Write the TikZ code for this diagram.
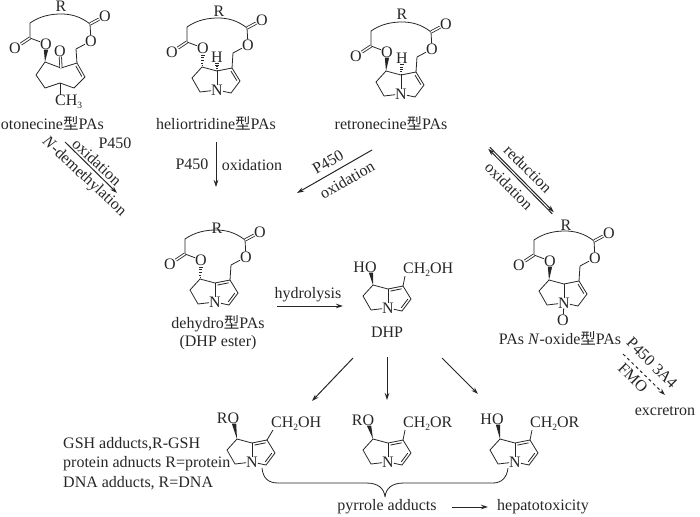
\documentclass[tikz,border=0pt]{standalone}
\usepackage{fontspec}
\setmainfont{Liberation Serif}
\newfontfamily\cjk{Noto Sans CJK SC}
\usetikzlibrary{calc,arrows.meta}
\tikzset{
  bondS/.style  ={black!85, line width=0.8pt, line join=round},
  dblS/.style   ={bondS, double=white, double distance=1.5pt},
  atom/.style   ={inner sep=0pt, text=black!85},
  label/.style  ={inner sep=0pt, text=black!85},
  arrowS/.style ={black!85, line width=1pt, -{Stealth[length=7pt,width=4.5pt]}},
}
\newcommand{\xing}{{\cjk\fontsize{15.5}{16}\selectfont 型}}
\newcommand{\subtwo}{\raisebox{-3pt}{\fontsize{9.5}{10}\selectfont 2}}
\newcommand{\subthree}{\raisebox{-3pt}{\fontsize{9.5}{10}\selectfont 3}}
\newcommand{\inbond}[2]{\draw[bondS, shorten <=2pt, shorten >=2pt] ($(#1)!2.5pt!-90:(#2)$) -- ($(#2)!2.5pt!90:(#1)$);}
\newcommand{\wedgeb}[2]{\fill[black!85] (#2) -- ($(#1)+(-2.2,0)$) -- ($(#1)+(2.2,0)$) -- cycle;}
\newcommand{\hashb}[2]{\foreach \t in {0.1,0.3,0.5,0.7,0.9}{\draw[black!85, line width=0.6pt] ($(#2)!\t!(#1)+(-0.3-\t*1.8,0)$) -- ($(#2)!\t!(#1)+(0.3+\t*1.8,0)$);}}
% five-membered rings around N, drawn in a scope whose origin is N
\newcommand{\fivecoords}[1]{
  \node[atom] (#1n) at (0,0) {N};
  \coordinate (#1c7) at (-15,-23); \coordinate (#1c8) at (0,-19);
  \coordinate (#1c1) at (15,-22);  \coordinate (#1c2) at (23,-9);
  \coordinate (#1c3) at (14,3);    \coordinate (#1c5) at (-17,2);
  \coordinate (#1c6) at (-25,-12);
  \draw[bondS] (#1n) -- (#1c5) -- (#1c6) -- (#1c7) -- (#1c8) -- (#1c1) -- (#1c2) -- (#1c3) -- (#1n);
  \draw[bondS] (#1n) -- (#1c8);
}
\newcommand{\dihydro}[1]{\fivecoords{#1} \inbond{#1c1}{#1c2}}
\newcommand{\pyrrole}[1]{\fivecoords{#1} \inbond{#1c8}{#1c1} \inbond{#1c2}{#1c3}}
% large ring with the two esters
\newcommand{\lactone}[1]{
  \coordinate (#1ch) at (16,-37); \coordinate (#1cr) at (30,-62);
  \coordinate (#1cl) at (-30,-48); \coordinate (#1al) at (-30,-63);
  \node[atom] (#1ol) at (-14,-42) {O};
  \node[atom] (#1or) at (31,-45) {O};
  \node[atom] (#1ql) at (-45,-38) {O};
  \node[atom] (#1qr) at (45,-70) {O};
  \draw[bondS] (#1c1) -- (#1ch) -- (#1or) -- (#1cr) .. controls (20,-70) and (10,-72) .. (1,-72)
     .. controls (-9,-72) and (-20,-70) .. (#1al) -- (#1cl) -- (#1ol);
  \draw[dblS] (#1cl) -- (#1ql);
  \draw[dblS] (#1cr) -- (#1qr);
}
\begin{document}
\begin{tikzpicture}[x=1pt, y=-1pt, font=\fontsize{16}{18}\selectfont]
  \useasboundingbox (0,0) rectangle (700,516);

  % otonecine
  \begin{scope}[shift={(60,86)}]
    \coordinate (otoc1) at (17,-23);
    \lactone{oto}
    \coordinate (otoc7) at (-15,-24); \coordinate (otok) at (1,-18); \coordinate (otoc2) at (25,-9);
    \coordinate (otoc3) at (14,2);    \coordinate (otom) at (0,-3);  \coordinate (otoc5) at (-15,2);
    \coordinate (otoc6) at (-24,-11);
    \node[atom] (otoq) at (0,-35) {O};
    \node[label, anchor=west] (otome) at (-5,16) {CH\subthree};
    \node[label] (otoR) at (1,-79.5) {R};
    \draw[bondS] (otoc7) -- (otok) -- (otoc1) -- (otoc2) -- (otoc3) -- (otom) -- (otoc5) -- (otoc6) -- (otoc7);
    \draw[bondS] (otom) -- (0,9);
    \draw[dblS] (otok) -- (otoq);
    \inbond{otoc1}{otoc2}
    \wedgeb{otool.south}{otoc7}
  \end{scope}
  \node[label, anchor=east] (otoT) at (104,123) {otonecine\xing PAs};

  % heliotridine
  \begin{scope}[shift={(217,90)}]
    \dihydro{hel}
    \lactone{hel}
    \node[atom] (helh) at (0,-33) {H};
    \node[label] (helR) at (2,-79) {R};
    \hashb{helol.south}{helc7}
    \hashb{helh.south}{helc8}
  \end{scope}
  \node[label] (helT) at (216,123) {heliortridine\xing PAs};

  % retronecine
  \begin{scope}[shift={(401,94)}]
    \dihydro{ret}
    \lactone{ret}
    \node[atom] (reth) at (1,-36) {H};
    \node[label] (retR) at (1,-80) {R};
    \wedgeb{retol.south}{retc7}
    \hashb{reth.south}{retc8}
  \end{scope}
  \node[label] (retT) at (391,123) {retronecine\xing PAs};

  % dehydro
  \begin{scope}[shift={(215,302)}]
    \pyrrole{deh}
    \lactone{deh}
    \node[label] (dehR) at (2,-74) {R};
    \hashb{dehol.south}{dehc7}
  \end{scope}
  \node[label] (dehT) at (218,324) {dehydro\xing PAs};
  \node[label] (dehU) at (218,343) {(DHP ester)};

  % N-oxide
  \begin{scope}[shift={(564,303)}]
    \dihydro{nox}
    \lactone{nox}
    \node[label] (noxR) at (2,-78) {R};
    \node[atom] (noxo) at (-1,17) {O};
    \draw[bondS] (noxn) -- (noxo);
    \wedgeb{noxol.south}{noxc7}
  \end{scope}
  \node[label] (noxT) at (560,338) {PAs \textit{N}-oxide\xing PAs};

  % DHP
  \begin{scope}[shift={(388,308)}]
    \pyrrole{dhp}
    \node[atom] (dhpo) at (-23,-41) {HO};
    \node[atom, anchor=west] (dhpm) at (15,-38) {CH\subtwo OH};
    \wedgeb{$(dhpo.south)+(6,0)$}{dhpc7}
    \draw[bondS] (dhpc1) -- ($(dhpm.west)+(2,6)$);
  \end{scope}
  \node[label] (dhpT) at (387,332) {DHP};

  % adducts
  \begin{scope}[shift={(252,462)}]
    \pyrrole{adA}
    \node[atom] (adAo) at (-24,-44) {RO};
    \node[atom, anchor=west] (adAm) at (19,-38) {CH\subtwo OH};
    \wedgeb{$(adAo.south)+(6,0)$}{adAc7}
    \draw[bondS] (adAc1) -- ($(adAm.west)+(2,6)$);
  \end{scope}
  \begin{scope}[shift={(388,462)}]
    \pyrrole{adB}
    \node[atom] (adBo) at (-25,-42) {RO};
    \node[atom, anchor=west] (adBm) at (15,-38) {CH\subtwo OR};
    \wedgeb{$(adBo.south)+(6,0)$}{adBc7}
    \draw[bondS] (adBc1) -- ($(adBm.west)+(2,6)$);
  \end{scope}
  \begin{scope}[shift={(515,462)}]
    \pyrrole{adC}
    \node[atom] (adCo) at (-23,-43) {HO};
    \node[atom, anchor=west] (adCm) at (15,-38) {CH\subtwo OR};
    \wedgeb{$(adCo.south)+(6,0)$}{adCc7}
    \draw[bondS] (adCc1) -- ($(adCm.west)+(2,6)$);
  \end{scope}
  \node[label, anchor=west] (gshT) at (63,444) {GSH adducts,R-GSH};
  \node[label, anchor=west] (proT) at (63,464) {protein adnucts R=protein};
  \node[label, anchor=west] (dnaT) at (63,483) {DNA adducts, R=DNA};

  % brace below the adducts
  \coordinate (braceL) at (262,468); \coordinate (braceR) at (508,468); \coordinate (braceT) at (385,497);
  \draw[bondS] (braceL) .. controls (263,478) and (268,483) .. (278,483) -- (366,483)
     .. controls (378,483) and (384,488) .. (braceT) .. controls (386,488) and (392,483) .. (404,483)
     -- (493,483) .. controls (502,483) and (507,477) .. (braceR);
  \node[label] (pyrT) at (387,507) {pyrrole adducts};
  \node[label] (hepT) at (543,507) {hepatotoxicity};
  \coordinate (pyrE) at (452,507); \coordinate (hepE) at (488,507);
  \draw[arrowS] (pyrE) -- (hepE);

  % reactions
  \coordinate (a1s) at (65,142);   \coordinate (a1e) at (117,193);
  \draw[arrowS] (a1s) -- (a1e);
  \node[label, rotate=-43] (a1t) at (97,162) {oxidation};
  \node[label, rotate=-43] (a1u) at (84,177) {\textit{N}-demethylation};
  \node[label] (a1v) at (115,143) {P450};

  \coordinate (a2s) at (216,142);  \coordinate (a2e) at (216,187);
  \draw[arrowS, line width=0.7pt] (a2s) -- (a2e);
  \node[label] (a2v) at (192,164) {P450};
  \node[label] (a2t) at (252,165) {oxidation};

  \coordinate (a3s) at (372,150);  \coordinate (a3e) at (297,193);
  \draw[arrowS] (a3s) -- (a3e);
  \node[label, rotate=30] (a3v) at (328,162) {P450};
  \node[label, rotate=30] (a3t) at (347,180) {oxidation};

  \coordinate (a4s) at (489,148);  \coordinate (a4e) at (553,213);
  \draw[arrowS, transform canvas={shift={(0.8pt,0.8pt)}}] (a4s) -- (a4e);
  \draw[arrowS, transform canvas={shift={(-0.8pt,-0.8pt)}}] (a4e) -- (a4s);
  \node[label, rotate=-45] (a4t) at (528,169) {reduction};
  \node[label, rotate=-45] (a4u) at (509,186) {oxidation};

  \coordinate (a5s) at (277,306);  \coordinate (a5e) at (343,306);
  \draw[arrowS] (a5s) -- (a5e);
  \node[label] (a5t) at (308,295) {hydrolysis};

  \coordinate (a6s) at (353,358);  \coordinate (a6e) at (312,401);
  \draw[arrowS] (a6s) -- (a6e);
  \coordinate (a7s) at (387,357);  \coordinate (a7e) at (387,400);
  \draw[arrowS, line width=0.7pt] (a7s) -- (a7e);
  \coordinate (a8s) at (442,358);  \coordinate (a8e) at (478,394);
  \draw[arrowS] (a8s) -- (a8e);

  \coordinate (a9s) at (623,354);  \coordinate (a9e) at (665,395);
  \draw[arrowS, dashed] (a9s) -- (a9e);
  \node[label, rotate=-45] (a9t) at (652,363) {P450 3A4};
  \node[label, rotate=-45] (a9u) at (633,378) {FMO};
  \node[label] (excT) at (665,411) {excretron};
\end{tikzpicture}
\end{document}
